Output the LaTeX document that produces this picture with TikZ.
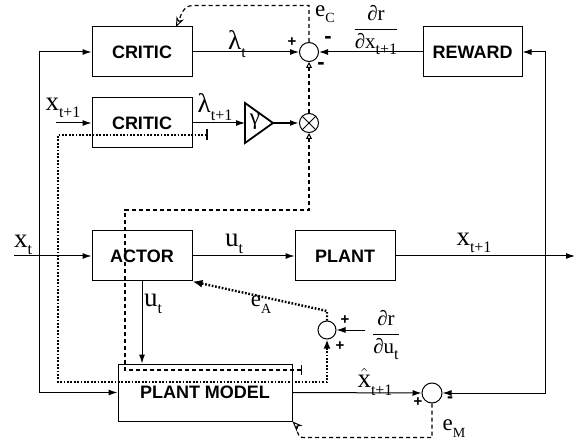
\documentclass[tikz,border=0pt]{standalone}
\usepackage{fontspec}
\setmainfont{Liberation Serif}
\setsansfont{Liberation Sans}
\usetikzlibrary{arrows.meta,calc}
\newcommand{\lsub}[1]{\raisebox{-0.28em}{\fontsize{16}{16}\selectfont #1}}
\newcommand{\esub}[1]{\raisebox{-0.3em}{\fontsize{14}{14}\selectfont #1}}
\begin{document}
\begin{tikzpicture}[x=1pt,y=-1pt,
  blk/.style={draw,line width=1pt,minimum width=100pt,minimum height=50pt,inner sep=0pt,
    font=\sffamily\bfseries\fontsize{18}{20}\selectfont},
  sumnode/.style={draw,circle,line width=1pt,minimum size=19pt,inner sep=0pt},
  lbl/.style={font=\fontsize{27}{29}\selectfont,inner sep=0pt},
  elbl/.style={font=\fontsize{23}{25}\selectfont,inner sep=0pt},
  frc/.style={font=\fontsize{21}{23}\selectfont,inner sep=0pt},
  sgn/.style={font=\sffamily\bfseries\fontsize{15}{15}\selectfont,inner sep=0pt},
  msgn/.style={font=\sffamily\bfseries\fontsize{22}{22}\selectfont,inner sep=0pt},
  conn/.style={line width=1pt,-{Latex[length=9pt,width=6pt]}},
  dashline/.style={line width=1.2pt,dash pattern=on 4pt off 3pt},
  dotline/.style={line width=2.4pt,dash pattern=on 1.7pt off 1.7pt},
  opentri/.style={-{Triangle[open,length=6pt,width=6pt,line width=1pt]}},
  openstealth/.style={-{Stealth[open,length=10pt,width=8pt,inset=3pt,line width=1pt]}},
]
\useasboundingbox (0,0) rectangle (575,443);

% blocks
\node[blk] (critic1) at (142,52) {CRITIC};
\node[blk] (critic2) at (142,123) {CRITIC};
\node[blk,minimum width=99pt] (reward) at (472.5,52) {REWARD};
\node[blk] (actor) at (142,256) {ACTOR};
\node[blk] (plant) at (345,256) {PLANT};
\node[blk,minimum width=174pt,minimum height=57pt] (pmodel) at (205,392.5) {PLANT MODEL};

% summing junctions
\node[sumnode] (sumc) at (309,52) {};
\node[sumnode] (prod) at (309,123) {};
\draw[line width=1pt] (prod.north east) -- (prod.south west) (prod.north west) -- (prod.south east);
\node[sumnode,minimum size=18pt] (suma) at (327,330) {};
\node[sumnode,minimum size=20pt] (summ) at (432,393) {};

% gain triangle
\coordinate (gin) at (245,123);
\coordinate (gout) at (273,123);
\draw[line width=1.8pt,line join=miter] (245,103) -- (gout) -- (245,143) -- cycle;
\node[font=\fontsize{23}{23}\selectfont,inner sep=0pt] (gam) at (255,122) {γ};

% coordinates
\coordinate (xin) at (14,256);
\coordinate (xout) at (575,256);
\coordinate (jl) at (39,256);
\coordinate (jr) at (545,256);
\coordinate (x1in) at (56,123);
\coordinate (durin) at (365,330);
\coordinate (ecend) at (176,27);
\coordinate (barc) at (208,135);
\coordinate (bara) at (302,370);

% main signal flow
\draw[conn] (xin) -- (actor.west);
\draw[conn] (actor.east) -- (plant.west);
\draw[conn] (plant.east) -- (xout);
\draw[conn] (jr) |- (reward.east);
\draw[conn] (jr) |- (summ.east);
\draw[conn] (jl) |- (critic1.west);
\draw[conn] (jl) |- (pmodel.west);
\draw[conn] (x1in) -- (critic2.west);
\draw[conn] (critic2.east) -- (gin);
\draw[line width=1.8pt,-{Latex[length=9pt,width=6pt]}] (gout) -- (prod.west);
\draw[conn] (critic1.east) -- (sumc.west);
\draw[conn] (reward.west) -- (sumc.east);
\draw[conn] (actor.south) -- (actor.south |- pmodel.north);
\draw[conn] (durin) -- (suma.east);
\draw[conn] (pmodel.east) -- (summ.west);

% dashed critic error paths
\draw[dashline,opentri] (prod.north) -- (sumc.south);
\draw[dashline,{Bar[width=10pt,line width=1pt]}-{Triangle[open,length=6pt,width=6pt,line width=1pt]}]
  (bara) -- (125,370) -- (125,210) -- (309,210) -- (prod.south);
\draw[dashline,openstealth] (sumc.north) -- (309,5.5) -- (193,5.5) to[out=180,in=65] (ecend);

% dotted actor paths
\draw[dotline,{Bar[width=11pt,line width=2pt]}-{Latex[length=9pt,width=7pt]}]
  (barc) -- (58,135) -- (58,382) -- (327,382) -- (suma.south);
\draw[dotline,-{Latex[length=10pt,width=8pt]}] (suma.north) -- (327,311) -- (actor.south east);

% model error path
\draw[dashline,openstealth] (summ.south) -- (432,437.5) -- (303,437.5) to[out=180,in=-45] (pmodel.south east);

% labels
\node[lbl] (lxt) at (23,245) {x\lsub{t}};
\node[lbl] (lut) at (234,244) {u\lsub{t}};
\node[lbl] (lxt1) at (474,243) {x\lsub{t+1}};
\node[lbl] (lx1in) at (63,108) {x\lsub{t+1}};
\node[lbl] (llt) at (237,44) {λ\lsub{t}};
\node[lbl] (llt1) at (215,107) {λ\lsub{t+1}};
\node[lbl] (lut2) at (153,304) {u\lsub{t}};
\node[lbl] (lxh) at (375,382) {$\hat{\mbox{x}}$\lsub{t+1}};
\node[elbl,anchor=north west] (lec) at (315,5) {e\esub{C}};
\node[elbl] (lea) at (261,305) {e\esub{A}};
\node[elbl] (lem) at (454,429) {e\esub{M}};
\node[frc] (ldrx) at (376,30) {$\displaystyle\frac{\mbox{∂r}}{\mbox{∂x\lsub{t+1}}}$};
\node[frc] (ldru) at (386,335) {$\displaystyle\frac{\mbox{∂r}}{\mbox{∂u\lsub{t}}}$};

% signs
\node[sgn] at (292,42) {+};
\node[msgn] at (328,40) {-};
\node[msgn] at (321,66) {-};
\node[sgn] at (345,320) {+};
\node[sgn] at (340,346) {+};
\node[sgn] at (418,402) {+};
\node[msgn,font=\sffamily\bfseries\fontsize{18}{18}\selectfont] at (450,400) {-};
\end{tikzpicture}
\end{document}
